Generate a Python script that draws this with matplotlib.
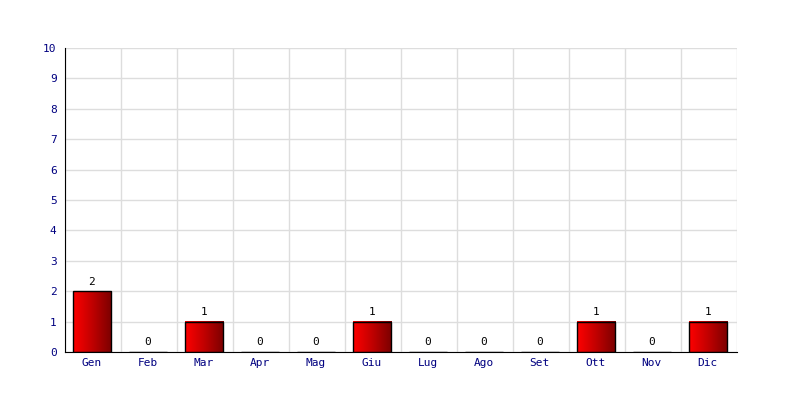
import numpy as np
import matplotlib.pyplot as plt
from matplotlib.colors import LinearSegmentedColormap

mesi = ["Gen", "Feb", "Mar", "Apr", "Mag", "Giu", "Lug", "Ago", "Set", "Ott", "Nov", "Dic"]
valori = [2, 0, 1, 0, 0, 1, 0, 0, 0, 1, 0, 1]

plt.rcParams['font.family'] = 'DejaVu Sans Mono'
fig = plt.figure(figsize=(8, 4), dpi=100)
ax = fig.add_axes([0.08125, 0.12, 0.84, 0.76])

x = np.arange(len(mesi)) - 0.025
bars = ax.bar(x, valori, width=0.68, facecolor='none', edgecolor='black', linewidth=1, zorder=3)

cmap = LinearSegmentedColormap.from_list("rosso", ["#ff0000", "#c00000", "#7a0000"])
grad = np.linspace(0, 1, 256).reshape(1, -1)
for b, v in zip(bars, valori):
    if v > 0:
        x0 = b.get_x()
        ax.imshow(grad, cmap=cmap, aspect='auto', zorder=2,
                  extent=[x0, x0 + b.get_width(), 0, v])
    ax.text(b.get_x() + b.get_width() / 2, v + 0.15, str(v), ha='center', va='bottom',
            fontsize=8, color='black')

ax.set_xlim(-0.5, len(mesi) - 0.5)
ax.set_ylim(0, 10)
ax.set_xticks(x)
ax.set_xticklabels(mesi)
ax.set_yticks(range(0, 11))
ax.set_xticks(np.arange(-0.5, len(mesi)), minor=True)
ax.grid(True, which='minor', axis='x', color='#dddddd', linewidth=1, zorder=0)
ax.grid(True, which='major', axis='y', color='#dddddd', linewidth=1, zorder=0)
ax.tick_params(axis='both', which='both', length=0, labelsize=8, labelcolor='#000080')
ax.tick_params(axis='x', pad=4)
ax.tick_params(axis='y', pad=6)
ax.set_axisbelow(True)
for s in ['top', 'right']:
    ax.spines[s].set_visible(False)
ax.spines['left'].set_color('black')
ax.spines['bottom'].set_color('black')

plt.savefig("out.png", dpi=100)
